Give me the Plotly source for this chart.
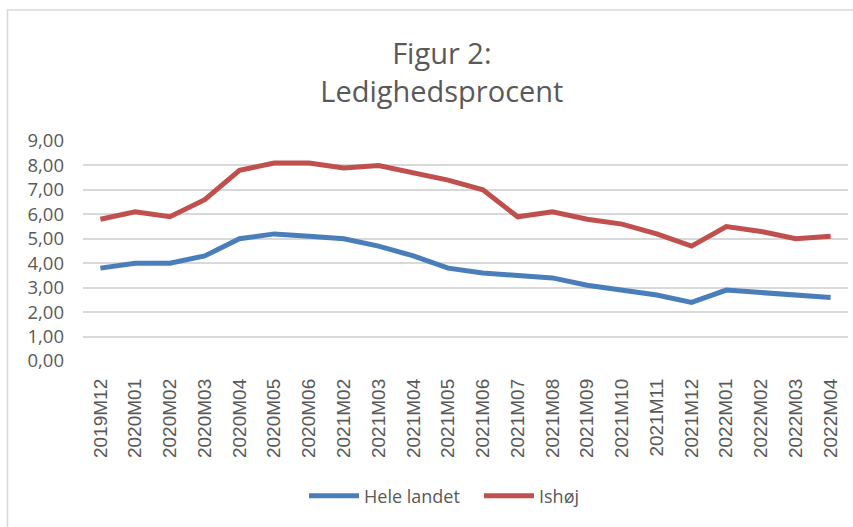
import plotly.graph_objects as go

categories = ["2019M12", "2020M01", "2020M02", "2020M03", "2020M04", "2020M05", "2020M06",
              "2021M02", "2021M03", "2021M04", "2021M05", "2021M06", "2021M07", "2021M08",
              "2021M09", "2021M10", "2021M11", "2021M12", "2022M01", "2022M02", "2022M03", "2022M04"]
hele_landet = [3.8, 4.0, 4.0, 4.3, 5.0, 5.2, 5.1, 5.0, 4.7, 4.3, 3.8, 3.6, 3.5, 3.4,
               3.1, 2.9, 2.7, 2.4, 2.9, 2.8, 2.7, 2.6]
ishoej = [5.8, 6.1, 5.9, 6.6, 7.8, 8.1, 8.1, 7.9, 8.0, 7.7, 7.4, 7.0, 5.9, 6.1,
          5.8, 5.6, 5.2, 4.7, 5.5, 5.3, 5.0, 5.1]
y_ticks = [0, 1, 2, 3, 4, 5, 6, 7, 8, 9]

FONT = "Open Sans"
GREY = "#595959"

L, R, T, B = 83, 5, 141, 166
PW, PH = 853 - L - R, 527 - T - B

fig = go.Figure()
fig.add_trace(go.Scatter(x=categories, y=hele_landet, mode="lines", name="Hele landet",
                         line=dict(color="#4a7ebb", width=5)))
fig.add_trace(go.Scatter(x=categories, y=ishoej, mode="lines", name="Ishøj",
                         line=dict(color="#c0504d", width=5)))

fig.update_layout(
    width=853, height=527,
    margin=dict(l=L, r=R, t=T, b=B, autoexpand=False),
    paper_bgcolor="white", plot_bgcolor="white",
    separators=",.",
    font=dict(family=FONT, color=GREY, size=14),
    title=dict(text="Figur 2:<br>Ledighedsprocent", x=0.518, xanchor="center",
               y=0.878, yanchor="top", font=dict(size=29, color=GREY, family=FONT)),
    showlegend=True,
    legend=dict(orientation="h", x=(304 - L) / PW, xanchor="left", y=(T + PH - 496) / PH,
                yanchor="middle", itemwidth=50, entrywidth=110, entrywidthmode="pixels",
                font=dict(size=18, color=GREY, family=FONT)),
    xaxis=dict(type="category", range=[-0.5, len(categories) - 0.5], tickangle=-90,
               showgrid=False, showline=False, ticks="", automargin=False,
               ticklabelstandoff=13,
               tickfont=dict(size=19, color=GREY, family="Liberation Sans")),
    yaxis=dict(range=[0, 9], tickvals=y_ticks, tickformat=".2f", showgrid=True,
               gridcolor="#d9d9d9", gridwidth=1.8, zeroline=False, showline=False,
               ticks="", automargin=False, ticklabelstandoff=18,
               tickfont=dict(size=18.5, color=GREY, family=FONT)),
    shapes=[dict(type="rect", xref="paper", yref="paper",
                 x0=(7.5 - L) / PW, x1=(870 - L) / PW,
                 y0=(T + PH - 545) / PH, y1=(T + PH - 10) / PH,
                 line=dict(color="#d9d9d9", width=1.5), fillcolor="rgba(0,0,0,0)",
                 layer="below")],
)

fig.write_html("out.html", config={"displayModeBar": False},
               post_script="document.body.style.margin='0';document.body.style.overflow='hidden';")
